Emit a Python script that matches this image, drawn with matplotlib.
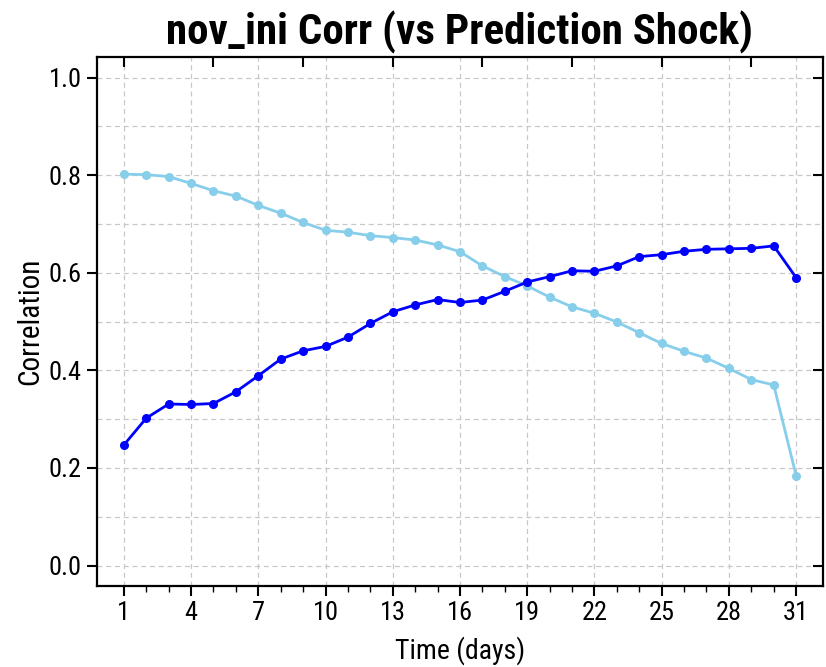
import numpy as np
import matplotlib.pyplot as plt
from matplotlib import font_manager

# Дані
days = list(range(1, 32))

corr_light = [0.802, 0.801, 0.797, 0.783, 0.768, 0.757, 0.738, 0.722, 0.703,
              0.687, 0.683, 0.676, 0.672, 0.667, 0.657, 0.643, 0.614, 0.592,
              0.573, 0.550, 0.530, 0.517, 0.499, 0.477, 0.455, 0.439, 0.425,
              0.404, 0.381, 0.370, 0.184]

corr_dark = [0.247, 0.302, 0.331, 0.330, 0.332, 0.356, 0.389, 0.423, 0.440,
             0.449, 0.468, 0.496, 0.520, 0.534, 0.545, 0.539, 0.544, 0.562,
             0.581, 0.592, 0.604, 0.603, 0.614, 0.633, 0.637, 0.644, 0.648,
             0.649, 0.650, 0.655, 0.590]

x_major = list(range(1, 32, 3))
x_top = list(range(1, 30, 4))
y_major = [0.0, 0.2, 0.4, 0.6, 0.8, 1.0]
y_minor = [0.1, 0.3, 0.5, 0.7, 0.9]

# Вузький шрифт, якщо є
fonts = font_manager.fontManager.ttflist
names = {f.name for f in fonts}
narrow = None
for cand in ["Liberation Sans Narrow", "Arial Narrow", "Roboto Condensed",
             "Open Sans Condensed", "Nimbus Sans Narrow"]:
    if cand in names:
        narrow = cand
        break
if narrow is not None:
    plt.rcParams["font.family"] = [narrow, "DejaVu Sans"]
else:
    plt.rcParams["font.family"] = ["Liberation Sans", "DejaVu Sans"]

fig = plt.figure(figsize=(8.26, 6.67), dpi=100)
ax = fig.add_axes([0.1174, 0.1214, 0.8790, 0.7931])

grid_kw = dict(color="#c8c8c8", linewidth=0.9, linestyle=(0, (4, 3)), zorder=0)
for x in x_major:
    ax.axvline(x, **grid_kw)
for y in y_major + y_minor:
    ax.axhline(y, **grid_kw)

ax.plot(days, corr_light, color="#87CEEB", linewidth=2, marker="o",
        markersize=5.5, zorder=3)
ax.plot(days, corr_dark, color="#0000FF", linewidth=2, marker="o",
        markersize=5.5, zorder=4)

ax.set_xlim(-0.2, 32.2)
ax.set_ylim(-0.042, 1.042)

ax.set_xticks(x_major)
ax.set_xticks(days, minor=True)
ax.set_yticks(y_major)
ax.set_yticklabels([f"{v:.1f}" for v in y_major])
ax.tick_params(axis="both", which="major", labelsize=19, width=1.5,
               length=7, direction="out", pad=4)
ax.tick_params(axis="x", which="minor", width=1.0, length=4, direction="out")

for sp in ax.spines.values():
    sp.set_linewidth(1.6)

# Ризики зверху і справа (всередину)
top = ax.secondary_xaxis("top")
top.set_xticks(x_top)
top.tick_params(direction="in", length=7, width=1.5, labeltop=False)
top.spines["top"].set_visible(False)
right = ax.secondary_yaxis("right")
right.set_yticks(y_major)
right.tick_params(direction="in", length=7, width=1.5, labelright=False)
right.spines["right"].set_visible(False)

ax.set_xlabel("Time (days)", fontsize=20, labelpad=8)
ax.set_ylabel("Correlation", fontsize=21, labelpad=3)
ax.set_title("nov_ini Corr (vs Prediction Shock)", fontsize=31,
             fontweight="bold", pad=9)

fig.savefig("out.png", dpi=100)
